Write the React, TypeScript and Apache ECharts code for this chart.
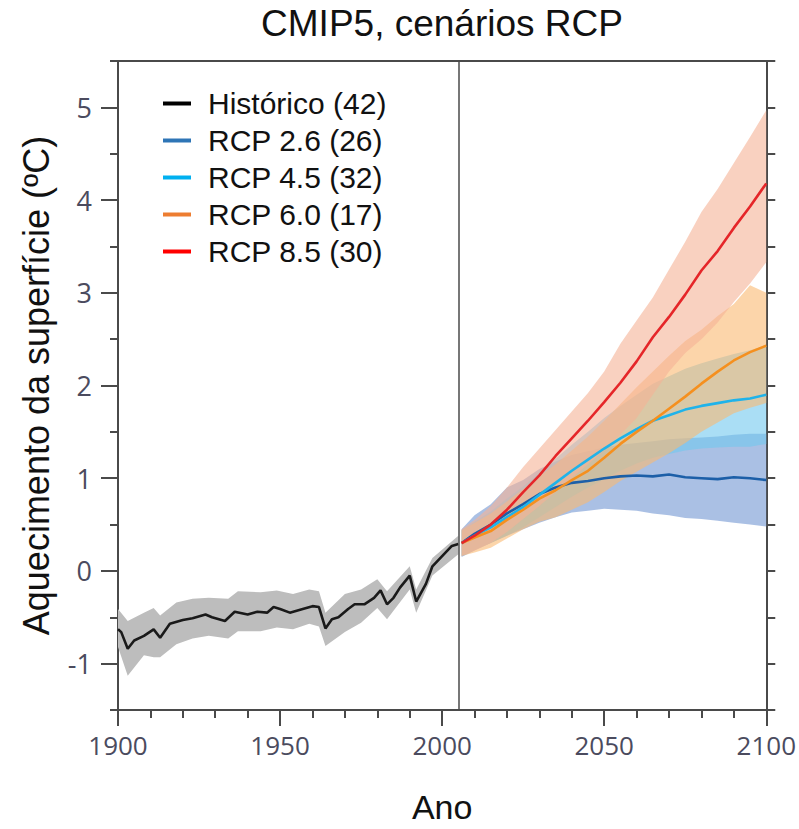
import React, { useEffect, useRef } from "react";
import * as echarts from "echarts";

// ---------- data ----------
const histYears = [1900,1901,1903,1905,1908,1911,1913,1916,1920,1923,1927,1929,1933,1936,1940,1943,1946,1948,1950,1953,1957,1960,1962,1964,1966,1968,1971,1973,1976,1979,1981,1983,1985,1987,1990,1992,1995,1997,2000,2003,2005];
const histMean = [-0.63,-0.66,-0.84,-0.75,-0.70,-0.63,-0.72,-0.57,-0.53,-0.51,-0.47,-0.50,-0.54,-0.44,-0.47,-0.44,-0.45,-0.39,-0.41,-0.45,-0.41,-0.38,-0.39,-0.62,-0.52,-0.50,-0.41,-0.36,-0.36,-0.29,-0.21,-0.36,-0.29,-0.18,-0.05,-0.33,-0.14,0.05,0.16,0.27,0.29];

const histBandYears = [1900,1903,1908,1911,1913,1918,1923,1928,1934,1937,1944,1949,1954,1959,1962,1964,1970,1975,1980,1983,1990,1992,1997,2005];
const histLow = [-0.82,-1.13,-0.91,-0.93,-0.93,-0.79,-0.73,-0.70,-0.73,-0.65,-0.65,-0.61,-0.63,-0.57,-0.60,-0.81,-0.66,-0.56,-0.40,-0.52,-0.20,-0.45,-0.05,0.18];
const histHigh = [-0.41,-0.54,-0.45,-0.40,-0.48,-0.34,-0.30,-0.29,-0.30,-0.22,-0.23,-0.21,-0.25,-0.20,-0.22,-0.45,-0.25,-0.20,-0.09,-0.22,0.05,-0.20,0.14,0.38];

const futureYears = [2006,2010,2015,2020,2025,2030,2035,2040,2045,2050,2055,2060,2065,2070,2075,2080,2085,2090,2095,2100];

const rcp26Mean = [0.30,0.40,0.50,0.62,0.72,0.83,0.90,0.95,0.97,1.00,1.02,1.03,1.02,1.04,1.01,1.00,0.99,1.01,1.00,0.98];
const rcp26Low = [0.15,0.22,0.30,0.38,0.45,0.52,0.58,0.63,0.65,0.67,0.66,0.65,0.62,0.60,0.57,0.56,0.54,0.52,0.50,0.48];
const rcp26High = [0.45,0.60,0.72,0.90,0.98,1.10,1.18,1.25,1.29,1.33,1.36,1.38,1.40,1.42,1.43,1.44,1.45,1.47,1.48,1.48];

const rcp45Mean = [0.30,0.38,0.47,0.58,0.69,0.82,0.95,1.08,1.20,1.32,1.43,1.53,1.62,1.68,1.74,1.78,1.81,1.84,1.86,1.90];
const rcp45Low = [0.16,0.23,0.30,0.38,0.47,0.58,0.69,0.80,0.90,0.99,1.08,1.16,1.22,1.26,1.30,1.32,1.33,1.34,1.34,1.37];
const rcp45High = [0.44,0.53,0.64,0.78,0.91,1.06,1.21,1.36,1.50,1.65,1.78,1.90,2.02,2.10,2.18,2.24,2.29,2.34,2.38,2.43];

const rcp60Mean = [0.30,0.36,0.43,0.55,0.66,0.78,0.87,0.98,1.08,1.22,1.37,1.50,1.62,1.75,1.88,2.02,2.15,2.27,2.36,2.43];
const rcp60Low = [0.16,0.20,0.25,0.35,0.45,0.53,0.58,0.66,0.74,0.85,0.97,1.07,1.17,1.27,1.38,1.50,1.60,1.70,1.76,1.81];
const rcp60High = [0.44,0.52,0.62,0.75,0.88,1.02,1.15,1.30,1.45,1.62,1.80,1.98,2.15,2.32,2.48,2.60,2.75,2.88,3.08,3.00];

const rcp85Mean = [0.30,0.38,0.50,0.66,0.85,1.03,1.24,1.43,1.62,1.82,2.03,2.26,2.52,2.74,2.98,3.24,3.45,3.70,3.93,4.18];
const rcp85Low = [0.16,0.22,0.30,0.42,0.56,0.70,0.85,1.00,1.15,1.30,1.47,1.65,1.90,2.15,2.35,2.50,2.68,2.90,3.10,3.33];
const rcp85High = [0.45,0.55,0.70,0.90,1.12,1.32,1.52,1.72,1.92,2.15,2.45,2.70,2.95,3.25,3.55,3.87,4.12,4.40,4.68,4.97];

const legendNames = ["Histórico (42)", "RCP 2.6 (26)", "RCP 4.5 (32)", "RCP 6.0 (17)", "RCP 8.5 (30)"];
const yMajorTicks = [-1, 0, 1, 2, 3, 4, 5];
const yMinorTicks = [-1.5, -0.5, 0.5, 1.5, 2.5, 3.5, 4.5, 5.5];
const yRightTicks = [-1.5, -1, -0.5, 0, 0.5, 1, 1.5, 2, 2.5, 3, 3.5, 4, 4.5, 5, 5.5];

// ---------- helpers ----------
const AXIS_COLOR = "#4a4a4a";
const FONT = '"Liberation Sans", Arial, sans-serif';
const TICK_FONT = '"Open Sans", "Noto Sans", sans-serif';
const TICK_COLOR = "#4b4b5e";

function bandSeries(name: string, years: number[], lo: number[], hi: number[], fill: string, z: number) {
  return {
    type: "custom",
    name,
    silent: true,
    clip: true,
    z,
    data: years.map((y, i) => [y, lo[i], hi[i]]),
    encode: { x: 0, y: [1, 2] },
    renderItem: (params: any, api: any) => {
      if (params.dataIndex !== 0) return null;
      const top = years.map((y, i) => api.coord([y, hi[i]]));
      const bottom = years.map((y, i) => api.coord([y, lo[i]])).reverse();
      return {
        type: "polygon",
        shape: { points: top.concat(bottom) },
        style: { fill, stroke: "none" },
      };
    },
  };
}

function lineSeries(name: string, years: number[], vals: number[], color: string, z: number, extra: any = {}) {
  return {
    type: "line",
    name,
    data: years.map((y, i) => [y, vals[i]]),
    showSymbol: false,
    symbol: "none",
    color,
    lineStyle: { color, width: 2.6 },
    z,
    silent: true,
    ...extra,
  };
}

export default function App() {
  const ref = useRef<HTMLDivElement>(null);

  useEffect(() => {
    if (!ref.current) return;
    const chart = echarts.init(ref.current, undefined, { renderer: "svg" });

    const option: any = {
      animation: false,
      backgroundColor: "#ffffff",
      grid: { left: 118, right: 32, top: 61, bottom: 119, containLabel: false },
      graphic: [
        {
          type: "text",
          x: 442,
          y: 23,
          style: {
            text: "CMIP5, cenários RCP",
            textAlign: "center",
            textVerticalAlign: "middle",
            font: `37px ${FONT}`,
            fill: "#111111",
          },
        },
      ],
      legend: {
        show: true,
        orient: "vertical",
        left: 158,
        top: 83,
        itemWidth: 28,
        itemHeight: 4,
        itemGap: 6,
        icon: "rect",
        selectedMode: false,
        textStyle: { fontSize: 30, fontFamily: FONT, color: "#111111", lineHeight: 31, padding: [0, 0, 0, 12] },
        data: [
          { name: legendNames[0], itemStyle: { color: "#000000" } },
          { name: legendNames[1], itemStyle: { color: "#2e75b6" } },
          { name: legendNames[2], itemStyle: { color: "#00b0f0" } },
          { name: legendNames[3], itemStyle: { color: "#ed7d31" } },
          { name: legendNames[4], itemStyle: { color: "#ff0000" } },
        ],
      },
      xAxis: [
        {
          type: "value",
          min: 1900,
          max: 2100,
          interval: 50,
          position: "bottom",
          axisLine: { show: true, onZero: false, lineStyle: { color: AXIS_COLOR, width: 2 } },
          axisTick: { show: true, length: 16, lineStyle: { color: AXIS_COLOR, width: 2 } },
          minorTick: { show: true, splitNumber: 5, length: 8, lineStyle: { color: AXIS_COLOR, width: 2 } },
          axisLabel: {
            margin: 22,
            fontSize: 26,
            fontFamily: TICK_FONT,
            color: TICK_COLOR,
            showMaxLabel: true,
            showMinLabel: true,
            formatter: (v: number) => String(v),
          },
          splitLine: { show: false },
          minorSplitLine: { show: false },
          name: "Ano",
          nameLocation: "middle",
          nameGap: 80,
          nameTextStyle: { fontSize: 34, fontFamily: FONT, color: "#111111" },
        },
        {
          type: "value",
          min: 1900,
          max: 2100,
          position: "top",
          axisLine: { show: true, onZero: false, lineStyle: { color: AXIS_COLOR, width: 2 } },
          axisTick: { show: false },
          axisLabel: { show: false },
          splitLine: { show: false },
        },
      ],
      yAxis: [
        {
          type: "value",
          min: -1.5,
          max: 5.5,
          position: "left",
          axisLine: { show: true, onZero: false, lineStyle: { color: AXIS_COLOR, width: 2 } },
          axisTick: { show: true, length: 17, customValues: yMajorTicks, lineStyle: { color: AXIS_COLOR, width: 2 } },
          axisLabel: {
            customValues: yMajorTicks,
            margin: 26,
            fontSize: 27,
            fontFamily: TICK_FONT,
            color: TICK_COLOR,
            formatter: (v: number) => String(v),
          },
          splitLine: { show: false },
          name: "Aquecimento da superfície (ºC)",
          nameLocation: "middle",
          nameGap: 64,
          nameTextStyle: { fontSize: 36, fontFamily: FONT, color: "#111111" },
        },
        {
          type: "value",
          min: -1.5,
          max: 5.5,
          position: "left",
          axisLine: { show: false },
          axisTick: { show: true, length: 8, customValues: yMinorTicks, lineStyle: { color: AXIS_COLOR, width: 2 } },
          axisLabel: { show: false },
          splitLine: { show: false },
        },
        {
          type: "value",
          min: -1.5,
          max: 5.5,
          position: "right",
          axisLine: { show: true, onZero: false, lineStyle: { color: AXIS_COLOR, width: 2 } },
          axisTick: { show: true, length: 9, customValues: yRightTicks, lineStyle: { color: AXIS_COLOR, width: 2 } },
          axisLabel: { show: false },
          splitLine: { show: false },
        },
      ],
      series: [
        bandSeries("histBand", histBandYears, histLow, histHigh, "#bdbdbd", 1),
        bandSeries("band26", futureYears, rcp26Low, rcp26High, "rgba(113,150,210,0.6)", 1),
        bandSeries("band45", futureYears, rcp45Low, rcp45High, "rgba(113,200,238,0.6)", 1),
        bandSeries("band60", futureYears, rcp60Low, rcp60High, "rgba(250,185,113,0.6)", 1),
        bandSeries("band85", futureYears, rcp85Low, rcp85High, "rgba(245,178,150,0.6)", 1),
        lineSeries(legendNames[0], histYears, histMean, "#1a1a1a", 3, {
          markLine: {
            silent: true,
            symbol: "none",
            label: { show: false },
            lineStyle: { color: AXIS_COLOR, width: 1.5, type: "solid" },
            data: [{ xAxis: 2005 }],
          },
        }),
        lineSeries(legendNames[1], futureYears, rcp26Mean, "#1c5fa8", 3),
        lineSeries(legendNames[2], futureYears, rcp45Mean, "#1fb3ea", 3),
        lineSeries(legendNames[3], futureYears, rcp60Mean, "#f5901f", 3),
        lineSeries(legendNames[4], futureYears, rcp85Mean, "#e52629", 3),
      ],
    };

    chart.setOption(option);
    return () => chart.dispose();
  }, []);

  return (
    <div
      ref={ref}
      style={{ position: "fixed", left: 0, top: 0, width: 799, height: 829, background: "#fff" }}
    />
  );
}
